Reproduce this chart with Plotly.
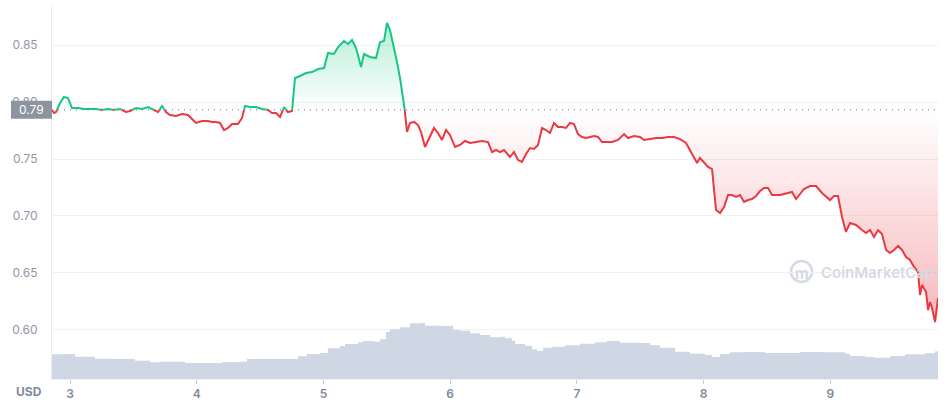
import numpy as np
import pandas as pd
import plotly.graph_objs as go

# 7 day price chart, hours counted from the first sample
START = pd.Timestamp("2022-01-02 20:35")
BASE = 0.7932  # opening price, drawn as the dotted reference line

hours = [0, 0.38, 0.76, 1.52, 2.27, 3.03, 3.79, 4.92, 6.06, 7.20, 8.33, 9.47, 10.61, 11.74,
         12.88, 14.02, 14.77, 15.91, 17.05, 18.18, 19.32, 20.08, 20.84, 21.59, 22.35, 23.49,
         24.62, 25.76, 26.52, 27.28, 28.41, 29.55, 30.31, 31.06, 31.82, 32.58, 33.34, 34.10,
         35.23, 35.99, 36.56, 37.51, 38.64, 39.78, 40.91, 41.67, 42.43, 43.19, 43.95, 44.70,
         45.46, 46.03, 46.98, 48.11, 49.25, 50.39, 51.52, 52.28, 53.42, 54.17, 55.31, 56.07,
         56.83, 57.58, 57.96, 58.53, 59.10, 60.24, 61.37, 62.13, 62.89, 63.46, 64.02, 64.78,
         65.35, 65.92, 66.49, 66.86, 67.24, 67.81, 68.57, 69.33, 69.90, 70.65, 71.60, 72.36,
         73.12, 73.87, 74.63, 75.39, 76.34, 77.28, 78.23, 79.18, 80.31, 81.45, 82.59, 83.34,
         84.10, 84.86, 85.62, 86.75, 87.51, 88.27, 89.03, 89.79, 90.54, 91.30, 92.06, 92.82,
         93.57, 94.33, 95.09, 95.85, 96.60, 97.36, 98.12, 98.88, 99.63, 100.39, 101.15, 101.91,
         102.67, 103.42, 104.18, 104.94, 106.08, 107.21, 108.35, 109.11, 110.24, 111.38, 112.14,
         113.27, 114.41, 115.55, 116.68, 117.82, 118.95, 120.09, 120.85, 121.61, 122.18, 122.74,
         123.50, 124.26, 125.02, 125.40, 125.77, 126.53, 127.29, 128.05, 128.81, 129.56, 130.32,
         131.08, 131.84, 132.59, 133.35, 134.11, 134.87, 135.63, 136.38, 137.14, 137.90, 138.66,
         139.41, 140.17, 140.93, 141.69, 142.44, 143.58, 144.72, 145.85, 146.61, 147.37, 148.12,
         148.88, 149.64, 150.39, 151.15, 152.29, 153.43, 154.19, 154.94, 155.70, 156.46, 157.22,
         157.98, 158.73, 159.49, 160.25, 161.01, 161.76, 162.52, 163.28, 164.04, 164.42, 164.79,
         165.56, 165.94, 166.31, 166.69, 167.26, 167.82]

price = [0.7930, 0.7904, 0.7912, 0.7991, 0.8044, 0.8035, 0.7947, 0.7947, 0.7939, 0.7939, 0.7939,
         0.7930, 0.7939, 0.7930, 0.7939, 0.7912, 0.7921, 0.7947, 0.7939, 0.7956, 0.7930, 0.7912,
         0.7965, 0.7912, 0.7886, 0.7877, 0.7895, 0.7886, 0.7851, 0.7816, 0.7833, 0.7833, 0.7825,
         0.7825, 0.7816, 0.7754, 0.7772, 0.7807, 0.7807, 0.7860, 0.7965, 0.7956, 0.7956, 0.7939,
         0.7930, 0.7904, 0.7904, 0.7868, 0.7956, 0.7912, 0.7921, 0.8211, 0.8228, 0.8254, 0.8263,
         0.8289, 0.8298, 0.8430, 0.8421, 0.8482, 0.8535, 0.8509, 0.8544, 0.8474, 0.8412, 0.8307,
         0.8421, 0.8395, 0.8386, 0.8526, 0.8535, 0.8693, 0.8632, 0.8482, 0.8351, 0.8211, 0.8044,
         0.7912, 0.7737, 0.7816, 0.7825, 0.7798, 0.7737, 0.7605, 0.7693, 0.7772, 0.7728, 0.7667,
         0.7754, 0.7711, 0.7605, 0.7623, 0.7658, 0.7640, 0.7649, 0.7658, 0.7649, 0.7561, 0.7579,
         0.7561, 0.7579, 0.7518, 0.7561, 0.7491, 0.7474, 0.7544, 0.7596, 0.7588, 0.7623, 0.7772,
         0.7754, 0.7728, 0.7816, 0.7781, 0.7781, 0.7772, 0.7816, 0.7807, 0.7719, 0.7693, 0.7684,
         0.7693, 0.7702, 0.7693, 0.7649, 0.7649, 0.7649, 0.7667, 0.7719, 0.7684, 0.7702, 0.7693,
         0.7667, 0.7675, 0.7684, 0.7684, 0.7693, 0.7693, 0.7675, 0.7640, 0.7579, 0.7509, 0.7465,
         0.7509, 0.7465, 0.7430, 0.7412, 0.7254, 0.7053, 0.7026, 0.7079, 0.7184, 0.7184, 0.7167,
         0.7184, 0.7123, 0.7140, 0.7149, 0.7175, 0.7219, 0.7246, 0.7246, 0.7184, 0.7184, 0.7184,
         0.7193, 0.7202, 0.7211, 0.7149, 0.7193, 0.7237, 0.7263, 0.7263, 0.7202, 0.7175, 0.7140,
         0.7175, 0.7175, 0.6991, 0.6860, 0.6939, 0.6921, 0.6877, 0.6851, 0.6877, 0.6816, 0.6877,
         0.6842, 0.6702, 0.6675, 0.6702, 0.6737, 0.6702, 0.6640, 0.6614, 0.6553, 0.6509, 0.6307,
         0.6395, 0.6333, 0.6175, 0.6246, 0.6193, 0.6070, 0.6281]

# volume in millions USD
vol_hours = [0, 2.08, 4.36, 8.14, 11.37, 15.72, 18.56, 20.46, 25.19, 32.2, 35.61, 36.94, 46.6,
             48.3, 50.76, 52.28, 54.55, 55.5, 57.96, 58.91, 61.18, 62.13, 63.27, 64.02, 65.92,
             67.81, 69.71, 70.65, 73.49, 75.96, 77.28, 79.18, 81.07, 82.97, 84.86, 85.81, 87.13,
             87.7, 89.6, 90.92, 91.87, 93.01, 94.71, 97.17, 100.01, 102.86, 105.13, 107.59,
             111.38, 113.27, 115.17, 118.01, 120.85, 123.69, 125.02, 126.53, 128.43, 131.27,
             135.06, 141.69, 146.42, 150.21, 151.16, 154.0, 155.9, 158.73, 161.57, 165.36,
             167.26, 167.82]
volume = [24.7, 25, 22.3, 20.3, 20, 18.3, 16.7, 17.3, 16, 17, 17.3, 20, 22.7, 25, 26, 30.7, 33,
          35, 36.7, 38, 37.3, 39.7, 47.3, 49.7, 51.7, 55.7, 56, 53.3, 53, 49.3, 48.3, 45.7, 44,
          41.7, 42.3, 40.7, 38.3, 35, 33.3, 29.7, 28, 31.3, 32.3, 33.7, 35.3, 36.7, 38, 36.3, 36,
          33.7, 31.3, 27.3, 25.3, 24, 22, 25, 26.7, 27, 26, 27, 26.7, 25.3, 23, 22, 21.3, 23,
          24.7, 25.7, 27.7, 28]

GREEN = "#16c784"
RED = "#ea3943"
GRAY = "#8f96a8"
WATERMARK = "#d5dae3"


def split_at_base(h, p, base):
    # add a point wherever the price crosses the base, so both colours meet exactly
    hh, pp = [h[0]], [p[0]]
    for i in range(1, len(p)):
        a, b = p[i - 1] - base, p[i] - base
        if a * b < 0:
            f = a / (a - b)
            hh.append(h[i - 1] + f * (h[i] - h[i - 1]))
            pp.append(base)
        hh.append(h[i])
        pp.append(p[i])
    return np.array(hh), np.array(pp)


hh, pp = split_at_base(hours, price, BASE)
t = START + pd.to_timedelta(hh, unit="h")
tv = START + pd.to_timedelta(vol_hours, unit="h")
base_line = np.full(len(pp), BASE)

fig = go.Figure()

fig.add_trace(go.Scatter(x=tv, y=volume, yaxis="y2", mode="lines", line_shape="hv",
                         line=dict(width=0, color="#cfd6e4"), fill="tozeroy",
                         fillcolor="#cfd6e4", hoverinfo="skip"))

# green area above base
fig.add_trace(go.Scatter(x=t, y=base_line, mode="lines", line=dict(width=0), hoverinfo="skip"))
fig.add_trace(go.Scatter(x=t, y=np.maximum(pp, BASE), mode="lines", line=dict(width=0),
                         fill="tonexty",
                         fillgradient=dict(type="vertical", start=BASE, stop=pp.max(),
                                           colorscale=[[0, "rgba(22,199,132,0)"],
                                                       [1, "rgba(22,199,132,0.32)"]]),
                         hoverinfo="skip"))
# red area below base
fig.add_trace(go.Scatter(x=t, y=base_line, mode="lines", line=dict(width=0), hoverinfo="skip"))
fig.add_trace(go.Scatter(x=t, y=np.minimum(pp, BASE), mode="lines", line=dict(width=0),
                         fill="tonexty",
                         fillgradient=dict(type="vertical", start=pp.min(), stop=BASE,
                                           colorscale=[[0, "rgba(234,57,67,0.36)"],
                                                       [1, "rgba(234,57,67,0)"]]),
                         hoverinfo="skip"))

fig.add_trace(go.Scatter(x=t, y=np.where(pp <= BASE, pp, np.nan), mode="lines",
                         line=dict(color=RED, width=2), connectgaps=False))
fig.add_trace(go.Scatter(x=t, y=np.where(pp >= BASE, pp, np.nan), mode="lines",
                         line=dict(color=GREEN, width=2), connectgaps=False))

fig.update_layout(
    width=949, height=407,
    margin=dict(l=52, r=11, t=5, b=28),
    paper_bgcolor="white", plot_bgcolor="white",
    showlegend=False,
    font=dict(family="Inter", size=12, color=GRAY),
    xaxis=dict(type="date", range=[t[0], t[-1]], tick0="2022-01-03", dtick=86400000,
               tickformat="%-d", ticks="outside", ticklen=4, tickcolor="#c5cad6",
               showgrid=False, showline=True, linecolor="#eef0f4", zeroline=False,
               tickfont=dict(size=12, color="#808a9d", weight=600)),
    yaxis=dict(range=[0.5570, 0.8851], tickvals=[0.60, 0.65, 0.70, 0.75, 0.80, 0.85],
               tickformat=".2f", showgrid=True, gridcolor="#eff1f5", zeroline=False,
               showline=True, linecolor="#e8ebf0", ticklabelstandoff=11,
               tickfont=dict(size=12, color=GRAY)),
    yaxis2=dict(overlaying="y", range=[0, 374], visible=False),
)

# dotted opening price line and its label
fig.add_shape(type="line", xref="paper", x0=0, x1=1, yref="y", y0=BASE, y1=BASE,
              line=dict(color="#9aa0ab", width=1.3, dash="1px,5px"), layer="below")
fig.add_shape(type="rect", xref="paper", x0=-41 / 886, x1=0, yref="y",
              y0=BASE - 0.0079, y1=BASE + 0.0079, fillcolor="#8e949f", line=dict(width=0),
              layer="above")
fig.add_annotation(xref="paper", x=-20.5 / 886, yref="y", y=BASE, text="0.79",
                   xanchor="center", yanchor="middle", showarrow=False,
                   font=dict(size=12, color="white"))

fig.add_annotation(xref="paper", x=-23 / 886, yref="paper", y=-13 / 374, text="USD",
                   xanchor="center", yanchor="middle", showarrow=False,
                   font=dict(size=12, color="#808a9d", weight=700))

# watermark: round logo with a wave inside, then the name
fig.add_shape(type="circle", xref="paper", yref="paper", x0=(791 - 52) / 886, x1=(812 - 52) / 886,
              y0=(379 - 282) / 374, y1=(379 - 261) / 374, line=dict(color=WATERMARK, width=2.5),
              layer="below")
fig.add_annotation(xref="paper", x=(802 - 52) / 886, yref="paper", y=(379 - 273) / 374,
                   text="m", xanchor="center", yanchor="middle", showarrow=False,
                   font=dict(size=15, color=WATERMARK, weight=700))
fig.add_annotation(xref="paper", x=(877 - 52) / 886, yref="paper", y=(379 - 272) / 374,
                   text="CoinMarketCap", xanchor="center", yanchor="middle", showarrow=False,
                   font=dict(size=15, color=WATERMARK, weight=600))

fig.write_html("out.html", config={"displayModeBar": False},
               post_script="document.body.style.margin='0';")
